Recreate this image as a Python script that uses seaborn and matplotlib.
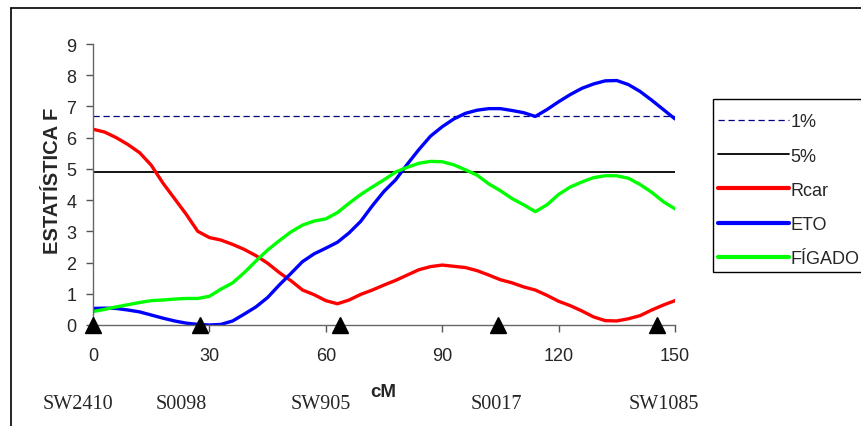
import numpy as np
import pandas as pd
import matplotlib.pyplot as plt
import seaborn as sns
from matplotlib.lines import Line2D
from matplotlib.patches import Rectangle

# --- Дані ---
cm = [0, 3, 6, 9, 12, 15, 18, 21, 24, 27, 30, 33, 36, 39, 42, 45, 48, 51, 54, 57,
      60, 63, 66, 69, 72, 75, 78, 81, 84, 87, 90, 93, 96, 99, 102, 105, 108, 111,
      114, 117, 120, 123, 126, 129, 132, 135, 138, 141, 144, 147, 150]

rcar = [6.27, 6.18, 6.0, 5.78, 5.52, 5.12, 4.55, 4.05, 3.55, 3.0, 2.80, 2.72, 2.58,
        2.42, 2.22, 1.98, 1.68, 1.42, 1.12, 0.97, 0.78, 0.68, 0.8, 0.98, 1.12, 1.28,
        1.43, 1.6, 1.77, 1.87, 1.92, 1.88, 1.84, 1.74, 1.6, 1.45, 1.35, 1.22, 1.12,
        0.95, 0.76, 0.62, 0.45, 0.26, 0.14, 0.13, 0.2, 0.3, 0.48, 0.64, 0.78]

eto = [0.53, 0.54, 0.53, 0.48, 0.42, 0.32, 0.22, 0.13, 0.06, 0.02, 0.0, 0.02, 0.13,
       0.35, 0.58, 0.88, 1.28, 1.65, 2.03, 2.28, 2.46, 2.65, 2.95, 3.32, 3.82, 4.28,
       4.65, 5.15, 5.62, 6.05, 6.35, 6.6, 6.78, 6.88, 6.93, 6.93, 6.87, 6.8, 6.68,
       6.9, 7.15, 7.38, 7.58, 7.72, 7.82, 7.83, 7.7, 7.48, 7.2, 6.9, 6.6]

figado = [0.43, 0.5, 0.58, 0.65, 0.72, 0.78, 0.8, 0.83, 0.85, 0.85, 0.92, 1.15, 1.35,
          1.68, 2.05, 2.4, 2.7, 2.98, 3.2, 3.33, 3.4, 3.6, 3.9, 4.18, 4.42, 4.65, 4.9,
          5.05, 5.18, 5.24, 5.23, 5.13, 4.97, 4.8, 4.52, 4.3, 4.05, 3.85, 3.63, 3.85,
          4.18, 4.42, 4.58, 4.72, 4.78, 4.78, 4.7, 4.5, 4.25, 3.95, 3.72]

limiar_1 = 6.70
limiar_5 = 4.90

markers = ['SW2410', 'S0098', 'SW905', 'S0017', 'SW1085']
marker_pos = [0, 27.6, 63.7, 104.4, 145.4]
label_x = [78, 181, 321, 496, 664]   # пікселі центрів підписів маркерів

series = {'Rcar': rcar, 'ETO': eto, 'FÍGADO': figado}
colors = {'Rcar': '#ff0000', 'ETO': '#0000ff', 'FÍGADO': '#00ff00'}

df = pd.concat([pd.DataFrame({'cM': cm, 'F': vals, 'serie': name})
                for name, vals in series.items()], ignore_index=True)

# --- Візуалізація ---
sns.set_style('white')
plt.rcParams['font.family'] = ['Liberation Sans', 'DejaVu Sans']

W, H = 861, 427
fig = plt.figure(figsize=(W / 100, H / 100), dpi=100)
ax = fig.add_axes([93 / W, 1 - 326 / H, (675 - 93) / W, (326 - 45) / H])

ax.axhline(limiar_1, color='#000080', lw=0.9, ls=(0, (5, 3)))
ax.axhline(limiar_5, color='black', lw=1.3)

sns.lineplot(data=df, x='cM', y='F', hue='serie', palette=colors, lw=2.4,
             legend=False, ax=ax, sort=False)

ax.plot(marker_pos, [0] * len(marker_pos), ls='none', marker='^', color='black',
        markersize=11, clip_on=False, zorder=5)

ax.set_xlim(0, 150)
ax.set_ylim(0, 9)
ax.set_xticks(range(0, 151, 30))
ax.set_yticks(range(0, 10))
ax.tick_params(axis='both', labelsize=13, length=5, width=1, color='#555555',
               direction='out', left=True, bottom=True)
ax.tick_params(axis='x', pad=11)
ax.tick_params(axis='y', pad=7)
for s in ['top', 'right']:
    ax.spines[s].set_visible(False)
for s in ['left', 'bottom']:
    ax.spines[s].set_color('#666666')
    ax.spines[s].set_linewidth(1)
ax.set_xlabel('')
ax.set_ylabel('ESTATÍSTICA F', fontsize=14.5, fontweight='bold')
ax.yaxis.set_label_coords(-0.053, 0.516)

fig.text(383 / W, 1 - 393 / H, 'cM', fontsize=13.5, fontweight='bold',
         ha='center', va='center')
for name, px in zip(markers, label_x):
    fig.text(px / W, 1 - 405 / H, name, fontsize=14.5, family='Liberation Serif',
             ha='center', va='center')

# рамка діаграми
fig.add_artist(Line2D([11 / W, 1], [1 - 9 / H, 1 - 9 / H], color='black', lw=1.2))
fig.add_artist(Line2D([11 / W, 11 / W], [0, 1 - 9 / H], color='black', lw=1.2))

# рамка легенди (виходить за правий край, як в оригіналі)
fig.add_artist(Rectangle((713 / W, 1 - 273 / H), 170 / W, 173 / H,
                         transform=fig.transFigure, fill=False,
                         edgecolor='black', lw=1))

handles = [
    Line2D([], [], color='#000080', lw=0.9, ls=(0, (5, 3))),
    Line2D([], [], color='black', lw=1.3),
    Line2D([], [], color=colors['Rcar'], lw=3),
    Line2D([], [], color=colors['ETO'], lw=3),
    Line2D([], [], color=colors['FÍGADO'], lw=3),
]
leg = fig.legend(handles, ['1%', '5%', 'Rcar', 'ETO', 'FÍGADO'],
                 loc='upper left', bbox_to_anchor=(713 / W, 1 - 109 / H),
                 fontsize=13, handlelength=3.9, handletextpad=0.1,
                 labelspacing=0.95, borderpad=0.3, borderaxespad=0,
                 frameon=False)

fig.savefig('out.png', dpi=100)
